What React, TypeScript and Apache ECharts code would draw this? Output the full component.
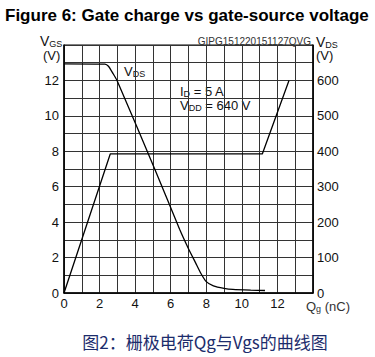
import React, { useEffect, useRef } from "react";
import * as echarts from "echarts";

const qgVgs = [0, 2.6, 11.15, 12.65];
const vgsValues = [0, 7.85, 7.85, 12];
const qgVds = [0, 2.3, 2.5, 2.75, 3.0, 5.1, 6.5, 7.0, 7.4, 7.7, 8.0, 8.4, 9.0, 9.5, 10.5, 11.3];
const vdsValues = [647, 646, 640, 620, 598, 350, 180, 125, 85, 55, 32, 20, 13, 10, 8, 7];
const xTickLabels = [0, 2, 4, 6, 8, 10, 12];
const leftTickLabels = [0, 2, 4, 6, 8, 10, 12];
const rightTickLabels = [0, 100, 200, 300, 400, 500, 600];

const FONT = "'Liberation Sans', Arial, sans-serif";

export default function App() {
  const ref = useRef<HTMLDivElement>(null);
  useEffect(() => {
    if (!ref.current) return;
    const chart = echarts.init(ref.current, null, { renderer: "svg" });
    const vgsData = qgVgs.map((x, i) => [x, vgsValues[i]]);
    const vdsData = qgVds.map((x, i) => [x, vdsValues[i]]);
    const labelStyle = { color: "#111", fontSize: 13, fontFamily: FONT };
    chart.setOption({
      animation: false,
      backgroundColor: "#fff",
      grid: { left: 64, right: 62, top: 45, bottom: 64, show: true, borderColor: "#000", borderWidth: 1, backgroundColor: "transparent" },
      xAxis: {
        type: "value", min: 0, max: 14, interval: 1,
        axisLine: { show: true, lineStyle: { color: "#000", width: 1.5 } },
        axisTick: { show: false },
        splitLine: { show: true, lineStyle: { color: "#333", width: 1 } },
        axisLabel: { ...labelStyle, margin: 4, formatter: (v: number) => (xTickLabels.includes(v) ? String(v) : "") },
      },
      yAxis: [
        {
          type: "value", min: 0, max: 14, interval: 1,
          axisLine: { show: true, lineStyle: { color: "#000", width: 1.5 } },
          axisTick: { show: false },
          splitLine: { show: true, lineStyle: { color: "#333", width: 1 } },
          axisLabel: { ...labelStyle, margin: 5, formatter: (v: number) => (leftTickLabels.includes(v) ? String(v) : "") },
        },
        {
          type: "value", min: 0, max: 700, interval: 50, position: "right",
          axisLine: { show: true, lineStyle: { color: "#000", width: 1.5 } },
          axisTick: { show: false },
          splitLine: { show: false },
          axisLabel: { ...labelStyle, margin: 4, formatter: (v: number) => (rightTickLabels.includes(v) ? String(v) : "") },
        },
      ],
      series: [
        { type: "line", data: vgsData, yAxisIndex: 0, symbol: "none", lineStyle: { color: "#000", width: 1.3 } },
        { type: "line", data: vdsData, yAxisIndex: 1, symbol: "none", smooth: 0.2, lineStyle: { color: "#000", width: 1.3 } },
      ],
      graphic: [
        { type: "text", left: 5, top: 7, style: { text: "Figure 6: Gate charge vs gate-source voltage", font: `bold 17px ${FONT}`, fill: "#000" } },
        { type: "text", x: 311, y: 36, style: { text: "GIPG151220151127QVG", font: `10px ${FONT}`, fill: "#333", align: "right" } },
        {
          type: "text", x: 40, y: 33,
          style: { text: "{v|V}{s|GS}", rich: { v: { font: `14px ${FONT}`, fill: "#111" }, s: { font: `9px ${FONT}`, fill: "#111", padding: [6, 0, 0, 0] } } },
        },
        { type: "text", x: 43, y: 49, style: { text: "(V)", font: `13px ${FONT}`, fill: "#111" } },
        {
          type: "text", x: 316, y: 34,
          style: { text: "{v|V}{s|DS}", rich: { v: { font: `14px ${FONT}`, fill: "#111" }, s: { font: `9px ${FONT}`, fill: "#111", padding: [6, 0, 0, 0] } } },
        },
        { type: "text", x: 316, y: 49, style: { text: "(V)", font: `13px ${FONT}`, fill: "#111" } },
        {
          type: "text", x: 124, y: 64,
          style: { text: "{v|V}{s|DS}", rich: { v: { font: `13px ${FONT}`, fill: "#111" }, s: { font: `9px ${FONT}`, fill: "#111", padding: [5, 0, 0, 0] } } },
        },
        {
          type: "text", x: 180, y: 84,
          style: { text: "{v|I}{s|D}{v| = 5 A}", rich: { v: { font: `13px ${FONT}`, fill: "#111" }, s: { font: `9px ${FONT}`, fill: "#111", padding: [5, 0, 0, 0] } } },
        },
        {
          type: "text", x: 180, y: 98,
          style: { text: "{v|V}{s|DD}{v| = 640 V}", rich: { v: { font: `13px ${FONT}`, fill: "#111" }, s: { font: `9px ${FONT}`, fill: "#111", padding: [5, 0, 0, 0] } } },
        },
        {
          type: "text", x: 306, y: 299,
          style: { text: "{v|Q}{s|g}{v| (nC)}", rich: { v: { font: `13px ${FONT}`, fill: "#333" }, s: { font: `9px ${FONT}`, fill: "#333", padding: [5, 0, 0, 0] } } },
        },
        { type: "text", x: 205, y: 333, style: { text: "图2：栅极电荷Qg与Vgs的曲线图", font: `17px 'Noto Sans CJK SC', sans-serif`, fill: "#1c2c6c", align: "center" } },
      ],
    });
    return () => chart.dispose();
  }, []);
  return <div ref={ref} style={{ width: 375, height: 357, position: "absolute", left: 0, top: 0 }} />;
}
